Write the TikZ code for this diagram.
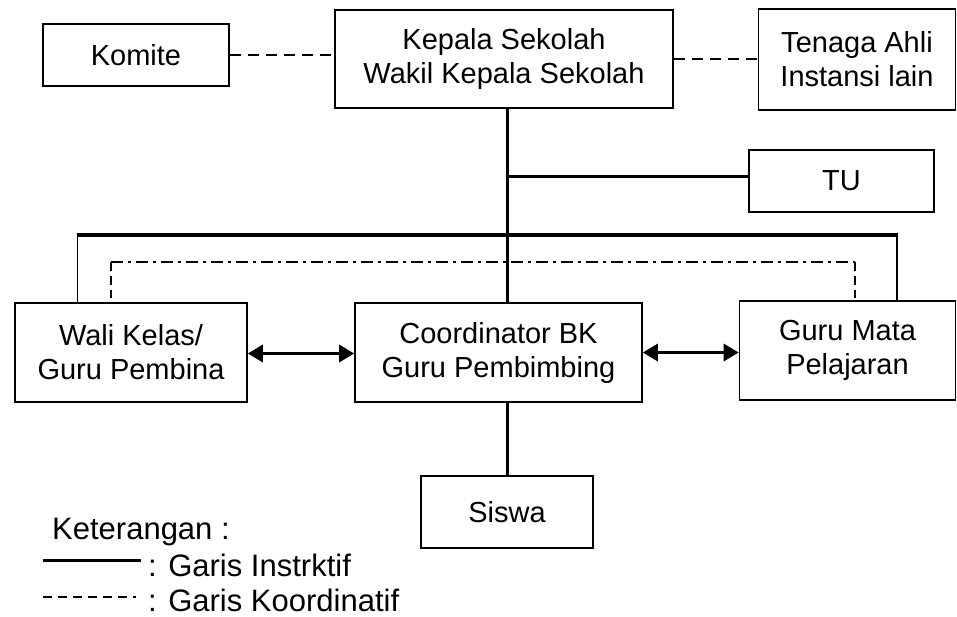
\documentclass[tikz,border=0pt]{standalone}
\usepackage{fontspec}
\setmainfont{Liberation Sans}
\usetikzlibrary{arrows.meta}
\begin{document}
\begin{tikzpicture}[x=1pt,y=-1pt,
 box/.style={draw, line width=1.6pt, inner sep=0pt, align=center, font=\fontsize{29}{34}\selectfont},
 instr/.style={line width=3pt},
 heavy/.style={line width=3.6pt},
 koor/.style={line width=1.8pt, dash pattern=on 11pt off 7pt},
 dashdot/.style={line width=1.6pt, dash pattern=on 12pt off 5pt on 3pt off 5pt},
 thinline/.style={line width=1.6pt},
 thindash/.style={line width=1.6pt, dash pattern=on 9pt off 5pt},
 dbl/.style={line width=3.2pt, {Triangle[length=15pt,width=17pt]}-{Triangle[length=15pt,width=17pt]}},
 legtext/.style={anchor=base west, inner sep=0pt, font=\fontsize{31}{36}\selectfont}]
\useasboundingbox (0,0) rectangle (957,616);
% boxes
\node[box, minimum width=186pt, minimum height=62pt] (komite) at (136,55) {Komite};
\node[box, minimum width=338pt, minimum height=98pt] (kepala) at (504,59) {Kepala Sekolah\\Wakil Kepala Sekolah};
\node[box, minimum width=197pt, minimum height=101pt] (tenaga) at (857,59.5) {Tenaga Ahli\\Instansi lain};
\node[box, minimum width=185pt, minimum height=62pt] (tu) at (841.5,181) {TU};
\node[box, minimum width=232pt, minimum height=99pt] (wali) at (131,352.5) {Wali Kelas/\\Guru Pembina};
\node[box, minimum width=287pt, minimum height=99pt] (coord) at (498.5,352.5) {Coordinator BK\\Guru Pembimbing};
\node[box, minimum width=216pt, minimum height=99pt] (guru) at (847.5,350.5) {Guru Mata\\Pelajaran};
\node[box, minimum width=172pt, minimum height=72pt] (siswa) at (507,512) {Siswa};
% helper coordinates
\coordinate (vx) at (507,0);
\coordinate (tuj) at (507,176);
\coordinate (hl) at (77.5,235);
\coordinate (hr) at (897,235);
\coordinate (dl) at (111,262);
\coordinate (dr) at (855,262);
\coordinate (dlb) at (111,298);
\coordinate (drb) at (855,298);
% coordination lines (dashed)
\draw[koor] (komite.east) -- (komite.east -| kepala.west);
\draw[koor] (kepala.east) -- (kepala.east -| tenaga.west);
% instructive lines
\draw[instr] (kepala.south -| vx) -- (coord.north -| vx);
\draw[instr] (tuj) -- (tuj -| tu.west);
\draw[heavy] ([xshift=-0.8pt]hl) -- ([xshift=0.8pt]hr);
\draw[thinline] (hl) -- (hl |- wali.north);
\draw[thinline] (hr) -- (hr |- guru.north);
\draw[instr] (coord.south -| vx) -- (siswa.north -| vx);
% dash-dot coordination
\draw[dashdot] (dl) -- (dr);
\draw[thindash] (dl) -- (dlb);
\draw[thindash] (dr) -- (drb);
% arrows
\draw[dbl] ([yshift=-1pt]wali.east) -- ([yshift=-1pt]wali.east -| coord.west);
\draw[dbl] (coord.east) -- (coord.east -| guru.west);
% legend
\node[legtext] (ket) at (52,539) {Keterangan :};
\coordinate (la) at (43,560);
\coordinate (lb) at (141,560);
\draw[instr] (la) -- (lb);
\node[legtext] (gi) at (148,576) {: Garis Instrktif};
\coordinate (lc) at (43,597);
\coordinate (ld) at (136,597);
\draw[thinline, dash pattern=on 9pt off 6pt] (lc) -- (ld);
\node[legtext] (gk) at (148,611) {: Garis Koordinatif};
\end{tikzpicture}
\end{document}
